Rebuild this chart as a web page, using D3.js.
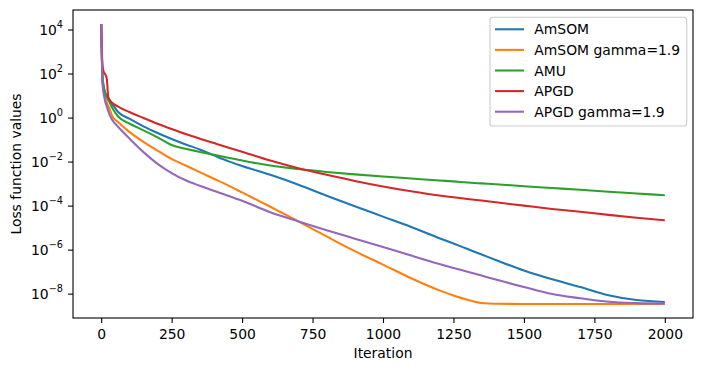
<!DOCTYPE html>
<html><head><meta charset="utf-8">
<script src="https://cdn.jsdelivr.net/npm/d3@7"></script>
<style>
body{margin:0;background:#fff}
svg{display:block}
text{font-family:"DejaVu Sans",sans-serif;fill:#000}
</style>
</head><body>
<svg id="chart" width="702" height="371"></svg>
<script>
// ---- data ----
const iterations = [0, 5, 10, 15, 20, 25, 30, 40, 60, 100, 150, 200, 250, 300, 350, 400, 450, 500, 600, 700, 800, 900, 1000, 1100, 1200, 1250, 1300, 1350, 1400, 1500, 1600, 1700, 1800, 1900, 2000];

const amsom = [1.78e4, 63.1, 22.4, 12.6, 9.55, 7.41, 6.03, 3.98, 1.78, 0.891, 0.398, 0.2, 0.107, 0.0603, 0.0355, 0.0191, 0.0105, 6.31e-3, 2.51e-3, 8.91e-4, 2.82e-4, 9.33e-5, 3.16e-5, 1.07e-5, 3.31e-6, 1.91e-6, 1.07e-6, 6.03e-7, 3.39e-7, 1.12e-7, 4.47e-8, 2.0e-8, 8.51e-9, 5.13e-9, 4.17e-9];

const amsomGamma = [1.78e4, 39.8, 14.1, 7.08, 4.79, 3.31, 2.40, 1.12, 0.631, 0.224, 0.0794, 0.0316, 0.0132, 6.61e-3, 3.31e-3, 1.66e-3, 8.32e-4, 3.98e-4, 8.91e-5, 1.91e-5, 3.98e-6, 8.51e-7, 2.09e-7, 5.01e-8, 1.41e-8, 8.32e-9, 5.25e-9, 3.80e-9, 3.47e-9, 3.39e-9, 3.39e-9, 3.39e-9, 3.39e-9, 3.39e-9, 3.39e-9];

const amu = [1.78e4, 63.1, 20.0, 11.2, 8.32, 6.31, 4.79, 2.63, 1.12, 0.537, 0.263, 0.126, 0.0562, 0.038, 0.0275, 0.0204, 0.0151, 0.0112, 6.61e-3, 4.57e-3, 3.39e-3, 2.63e-3, 2.09e-3, 1.70e-3, 1.38e-3, 1.26e-3, 1.12e-3, 1.02e-3, 9.33e-4, 7.59e-4, 6.31e-4, 5.25e-4, 4.27e-4, 3.55e-4, 2.95e-4];

const apgd = [1.78e4, 200, 112, 89.1, 56.2, 8.51, 6.31, 4.57, 3.16, 1.78, 0.955, 0.525, 0.302, 0.178, 0.110, 0.0692, 0.0437, 0.0282, 0.0112, 5.01e-3, 2.51e-3, 1.32e-3, 7.41e-4, 4.47e-4, 2.88e-4, 2.40e-4, 2.0e-4, 1.70e-4, 1.41e-4, 1.0e-4, 7.08e-5, 5.25e-5, 3.80e-5, 2.82e-5, 2.14e-5];

const apgdGamma = [1.78e4, 31.6, 10, 5.01, 3.16, 2.0, 1.32, 0.759, 0.380, 0.112, 0.0269, 7.94e-3, 3.02e-3, 1.41e-3, 7.94e-4, 4.68e-4, 2.82e-4, 1.66e-4, 5.01e-5, 1.91e-5, 7.59e-6, 3.16e-6, 1.32e-6, 5.37e-7, 2.24e-7, 1.48e-7, 1.0e-7, 6.61e-8, 4.37e-8, 2.0e-8, 9.55e-9, 6.17e-9, 4.27e-9, 3.72e-9, 3.55e-9];

const seriesNames = ["AmSOM", "AmSOM gamma=1.9", "AMU", "APGD", "APGD gamma=1.9"];
const seriesColors = ["#1f77b4", "#ff7f0e", "#2ca02c", "#d62728", "#9467bd"];
const xTickValues = [0, 250, 500, 750, 1000, 1250, 1500, 1750, 2000];
const yTickExponents = [-8, -6, -4, -2, 0, 2, 4];
const xLabel = "Iteration";
const yLabel = "Loss function values";

// ---- layout ----
const svg = d3.select("#chart");
const L = 73, R = 693, T = 10, B = 318;
const FS = 13.9;

const seriesValues = [amsom, amsomGamma, amu, apgd, apgdGamma];
const series = seriesNames.map((name, i) => ({
  name, color: seriesColors[i],
  points: iterations.map((it, j) => [it, seriesValues[i][j]])
}));

// matplotlib-like 5% margins
const xMin = d3.min(iterations), xMax = d3.max(iterations);
const xPad = (xMax - xMin) * 0.05;
const x = d3.scaleLinear().domain([xMin - xPad, xMax + xPad]).range([L, R]);

const allVals = seriesValues.flat();
const lmin = Math.log10(d3.min(allVals)), lmax = Math.log10(d3.max(allVals));
const lpad = (lmax - lmin) * 0.05;
const y = d3.scaleLog().domain([Math.pow(10, lmin - lpad), Math.pow(10, lmax + lpad)]).range([B, T]);

// lines
const line = d3.line().x(d => x(d[0])).y(d => y(d[1])).curve(d3.curveMonotoneX);
const plot = svg.append("g");
series.forEach(s => {
  plot.append("path")
    .attr("d", line(s.points))
    .attr("fill", "none")
    .attr("stroke", s.color)
    .attr("stroke-width", 2.08)
    .attr("stroke-linejoin", "round")
    .attr("stroke-linecap", "butt");
});

// x axis
const xAxis = svg.append("g").attr("transform", `translate(0,${B})`)
  .call(d3.axisBottom(x).tickValues(xTickValues).tickSize(4.9).tickPadding(4.9).tickFormat(d3.format("d")));
xAxis.select(".domain").remove();
xAxis.selectAll(".tick line").attr("stroke", "#000").attr("stroke-width", 1.1);
xAxis.selectAll(".tick text").attr("font-size", FS).attr("font-family", "DejaVu Sans")
  .attr("y", 21).attr("dy", null);

// y axis
const yTickVals = yTickExponents.map(e => Math.pow(10, e));
const yAxis = svg.append("g").attr("transform", `translate(${L},0)`)
  .call(d3.axisLeft(y).tickValues(yTickVals).tickSize(4.9).tickPadding(4.9).tickFormat(() => ""));
yAxis.select(".domain").remove();
yAxis.selectAll(".tick line").attr("stroke", "#000").attr("stroke-width", 1.1);
yAxis.selectAll(".tick text").each(function(d, i) {
  const t = d3.select(this);
  const e = yTickExponents[i];
  t.attr("font-size", FS).attr("font-family", "DejaVu Sans").attr("x", -10).attr("dy", null).attr("y", 5)
   .attr("text-anchor", "end");
  t.text(null);
  t.append("tspan").text("10");
  t.append("tspan").attr("font-size", 9.7).attr("dy", -7)
    .text(e < 0 ? "\u2212" + Math.abs(e) : String(e));
});

// spines
svg.append("rect").attr("x", L).attr("y", T).attr("width", R - L).attr("height", B - T)
  .attr("fill", "none").attr("stroke", "#000").attr("stroke-width", 1.1);

// axis labels
svg.append("text").attr("x", (L + R) / 2).attr("y", 358).attr("text-anchor", "middle")
  .attr("font-size", FS).text(xLabel);
svg.append("text").attr("transform", `translate(20.7,${(T + B) / 2}) rotate(-90)`)
  .attr("text-anchor", "middle").attr("font-size", FS).text(yLabel);

// legend
const lg = svg.append("g");
lg.append("rect").attr("x", 490).attr("y", 17.3).attr("width", 196.7).attr("height", 108.7)
  .attr("rx", 2.8).attr("fill", "#fff").attr("fill-opacity", 0.8)
  .attr("stroke", "#cccccc").attr("stroke-width", 1.1);
series.forEach((s, i) => {
  const cy = 29.3 + i * 20.6;
  lg.append("line").attr("x1", 495).attr("x2", 524).attr("y1", cy).attr("y2", cy)
    .attr("stroke", s.color).attr("stroke-width", 2.08);
  lg.append("text").attr("x", 534.3).attr("y", cy + 5).attr("font-size", FS).text(s.name);
});
</script>
</body></html>
